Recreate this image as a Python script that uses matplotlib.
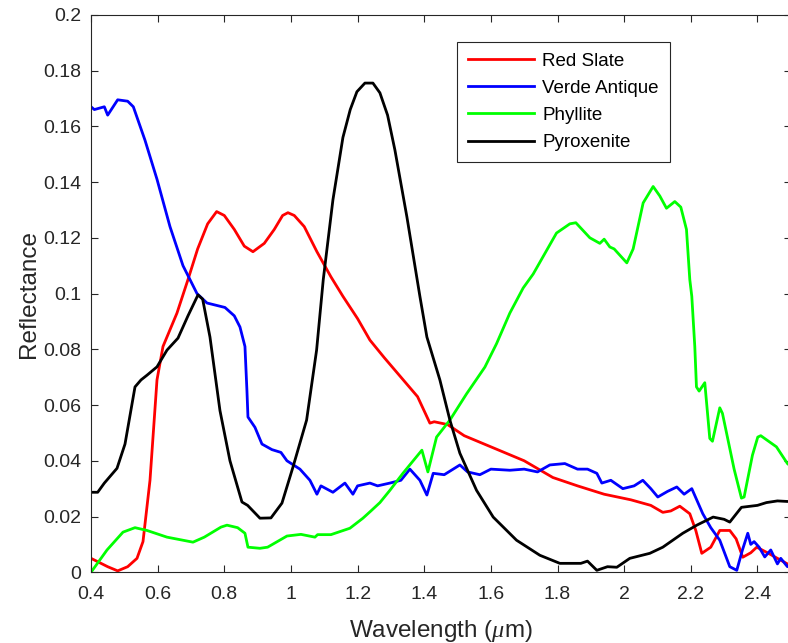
import numpy as np
import matplotlib.pyplot as plt

plt.rcParams['font.family'] = ['Liberation Sans', 'DejaVu Sans']
plt.rcParams['mathtext.fontset'] = 'custom'
plt.rcParams['mathtext.it'] = 'Liberation Serif:italic'

# Red Slate
red_wl = [0.40, 0.45, 0.48, 0.51, 0.538, 0.556, 0.577, 0.598, 0.616, 0.658, 0.691, 0.72, 0.75,
          0.777, 0.80, 0.83, 0.86, 0.886, 0.92, 0.95, 0.975, 0.991, 1.01, 1.04, 1.078, 1.12,
          1.156, 1.20, 1.237, 1.28, 1.33, 1.38, 1.417, 1.43, 1.47, 1.52, 1.60, 1.70, 1.786,
          1.86, 1.94, 2.02, 2.08, 2.116, 2.14, 2.167, 2.197, 2.215, 2.233, 2.26, 2.287, 2.317,
          2.336, 2.356, 2.38, 2.398, 2.43, 2.46, 2.49, 2.50]
red_val = [0.005, 0.002, 0.0005, 0.002, 0.005, 0.011, 0.033, 0.069, 0.081, 0.093, 0.105, 0.116, 0.125,
           0.1294, 0.128, 0.123, 0.117, 0.115, 0.118, 0.123, 0.128, 0.129, 0.128, 0.124, 0.115, 0.106,
           0.099, 0.091, 0.0833, 0.077, 0.070, 0.063, 0.0535, 0.054, 0.053, 0.049, 0.045, 0.040, 0.034,
           0.031, 0.028, 0.026, 0.024, 0.0215, 0.022, 0.0237, 0.021, 0.015, 0.0068, 0.009, 0.015, 0.015,
           0.012, 0.0054, 0.007, 0.009, 0.007, 0.005, 0.003, 0.003]

# Verde Antique
blue_wl = [0.40, 0.41, 0.44, 0.45, 0.48, 0.51, 0.527, 0.562, 0.598, 0.637, 0.676, 0.718, 0.748,
           0.802, 0.83, 0.847, 0.862, 0.868, 0.871, 0.892, 0.913, 0.943, 0.97, 0.988, 1.027,
           1.057, 1.078, 1.09, 1.126, 1.162, 1.186, 1.20, 1.237, 1.26, 1.297, 1.33, 1.357, 1.387,
           1.408, 1.427, 1.46, 1.507, 1.53, 1.567, 1.60, 1.657, 1.70, 1.74, 1.777, 1.822, 1.86,
           1.89, 1.918, 1.933, 1.96, 1.996, 2.03, 2.056, 2.08, 2.101, 2.13, 2.158, 2.18, 2.203,
           2.236, 2.26, 2.287, 2.317, 2.338, 2.355, 2.371, 2.38, 2.39, 2.405, 2.422, 2.44, 2.46,
           2.47, 2.49, 2.50]
blue_val = [0.167, 0.166, 0.167, 0.164, 0.1695, 0.169, 0.167, 0.155, 0.141, 0.124, 0.110, 0.100, 0.0966,
            0.095, 0.092, 0.088, 0.081, 0.065, 0.0557, 0.052, 0.046, 0.044, 0.043, 0.040, 0.037,
            0.033, 0.028, 0.031, 0.0287, 0.032, 0.028, 0.031, 0.032, 0.031, 0.032, 0.033, 0.037, 0.033,
            0.0277, 0.0355, 0.035, 0.0385, 0.036, 0.035, 0.037, 0.0366, 0.037, 0.036, 0.0385, 0.039, 0.037,
            0.037, 0.0355, 0.032, 0.033, 0.030, 0.031, 0.033, 0.030, 0.027, 0.029, 0.0306, 0.028, 0.030,
            0.021, 0.016, 0.0115, 0.002, 0.0007, 0.008, 0.014, 0.010, 0.011, 0.009, 0.0055, 0.008, 0.003,
            0.005, 0.002, 0.003]

# Phyllite
green_wl = [0.40, 0.448, 0.496, 0.532, 0.568, 0.628, 0.706, 0.74, 0.79, 0.808, 0.84, 0.862, 0.871,
            0.907, 0.93, 0.988, 1.03, 1.072, 1.08, 1.12, 1.177, 1.216, 1.24, 1.267, 1.297, 1.336,
            1.393, 1.411, 1.437, 1.477, 1.527, 1.582, 1.617, 1.657, 1.697, 1.727, 1.797, 1.837,
            1.855, 1.897, 1.927, 1.94, 1.957, 1.97, 2.008, 2.027, 2.057, 2.087, 2.107, 2.127,
            2.152, 2.17, 2.187, 2.197, 2.203, 2.212, 2.217, 2.225, 2.242, 2.257, 2.265, 2.287,
            2.295, 2.33, 2.352, 2.36, 2.385, 2.401, 2.41, 2.457, 2.49, 2.50]
green_val = [0.0, 0.008, 0.0144, 0.016, 0.015, 0.0126, 0.0108, 0.0126, 0.0162, 0.0169, 0.016, 0.014, 0.009,
             0.0086, 0.009, 0.013, 0.0136, 0.0126, 0.0135, 0.0135, 0.0158, 0.0194, 0.022, 0.025, 0.0294, 0.0355,
             0.0438, 0.036, 0.0485, 0.0546, 0.064, 0.0736, 0.082, 0.093, 0.102, 0.107, 0.1217, 0.125,
             0.1254, 0.120, 0.118, 0.1195, 0.1167, 0.116, 0.111, 0.116, 0.1325, 0.1384, 0.135, 0.1306,
             0.133, 0.131, 0.123, 0.105, 0.099, 0.081, 0.0665, 0.065, 0.068, 0.048, 0.047, 0.059,
             0.057, 0.037, 0.0266, 0.027, 0.042, 0.0485, 0.049, 0.045, 0.039, 0.038]

# Pyroxenite
black_wl = [0.40, 0.42, 0.44, 0.478, 0.502, 0.532, 0.55, 0.568, 0.598, 0.628, 0.661, 0.691, 0.721,
            0.735, 0.757, 0.787, 0.817, 0.853, 0.87, 0.907, 0.94, 0.973, 1.006, 1.047, 1.077,
            1.097, 1.126, 1.156, 1.178, 1.198, 1.222, 1.246, 1.267, 1.29, 1.312, 1.348, 1.387,
            1.408, 1.447, 1.477, 1.507, 1.557, 1.607, 1.677, 1.747, 1.807, 1.87, 1.89, 1.918,
            1.95, 1.978, 2.017, 2.077, 2.116, 2.176, 2.218, 2.267, 2.30, 2.317, 2.352, 2.40,
            2.427, 2.46, 2.49, 2.50]
black_val = [0.0287, 0.0287, 0.032, 0.0373, 0.046, 0.0665, 0.069, 0.0707, 0.0737, 0.0797, 0.084, 0.092, 0.0995,
             0.098, 0.0844, 0.058, 0.040, 0.0252, 0.024, 0.0194, 0.0195, 0.0248, 0.0377, 0.0546, 0.0797,
             0.105, 0.1336, 0.156, 0.166, 0.1724, 0.1755, 0.1755, 0.172, 0.164, 0.1515, 0.1275, 0.099,
             0.0844, 0.069, 0.0546, 0.0427, 0.0294, 0.0198, 0.0115, 0.0061, 0.0032, 0.0032, 0.004, 0.0007,
             0.002, 0.0018, 0.005, 0.0068, 0.009, 0.014, 0.0169, 0.0198, 0.019, 0.018, 0.0233, 0.024,
             0.025, 0.0256, 0.0254, 0.0255]

fig = plt.figure(figsize=(7.88, 6.43), dpi=100)
ax = fig.add_axes([0.1155, 0.110, 0.888, 0.867])

ax.plot(red_wl, red_val, color='#ff0000', lw=2, label='Red Slate')
ax.plot(blue_wl, blue_val, color='#0000ff', lw=2, label='Verde Antique')
ax.plot(green_wl, green_val, color='#00ff00', lw=2, label='Phyllite')
ax.plot(black_wl, black_val, color='#000000', lw=2, label='Pyroxenite')

ax.set_xlim(0.4, 2.5)
ax.set_ylim(0, 0.2)
ax.set_xticks(np.arange(0.4, 2.41, 0.2))
ax.set_xticklabels(['0.4', '0.6', '0.8', '1', '1.2', '1.4', '1.6', '1.8', '2', '2.2', '2.4'])
ax.set_yticks(np.arange(0, 0.201, 0.02))
ax.set_yticklabels(['0', '0.02', '0.04', '0.06', '0.08', '0.1', '0.12', '0.14', '0.16', '0.18', '0.2'])
ax.tick_params(direction='in', top=True, right=True, length=5, width=0.8,
               labelsize=14, colors='#262626')
ax.tick_params(axis='x', pad=10)
ax.tick_params(axis='y', pad=7)
for s in ax.spines.values():
    s.set_color('#262626')
    s.set_linewidth(0.8)

ax.set_xlabel(r'Wavelength ($\mu$m)', fontsize=17.5, color='#262626', labelpad=11)
ax.set_ylabel('Reflectance', fontsize=17.5, color='#262626', labelpad=2)

leg = ax.legend(loc='upper left', bbox_to_anchor=(0.523, 0.952), fontsize=13.5,
                fancybox=False, edgecolor='#262626', framealpha=1, handlelength=3.5,
                borderpad=0.6, labelspacing=0.53, handletextpad=0.45, borderaxespad=0)
leg.get_frame().set_linewidth(0.8)

fig.savefig('out.png', dpi=100)
